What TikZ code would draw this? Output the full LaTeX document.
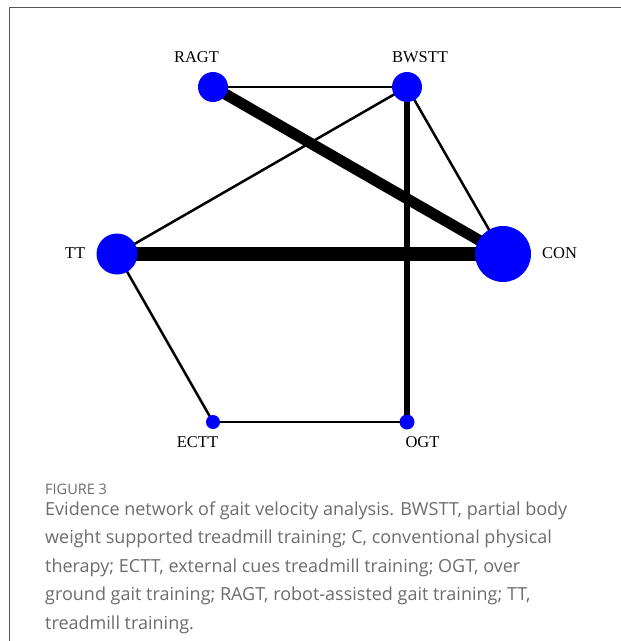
\documentclass[tikz,border=0pt]{standalone}
\usepackage{fontspec}
\setmainfont{Liberation Serif}
\newfontfamily\capfont{Open Sans}
\usetikzlibrary{backgrounds}
\definecolor{capgray}{RGB}{108,108,108}
\definecolor{framegray}{RGB}{85,85,85}

\tikzset{
  trt/.style={circle,fill=blue,inner sep=0pt,minimum size=#1},
  lab/.style={anchor=base,inner sep=0pt,font=\fontsize{16.5}{18}\selectfont},
  capline/.style={anchor=base west,inner sep=0pt,text=capgray,
    font=\capfont\fontsize{18}{20}\selectfont},
  link/.style={line width=#1},
}

\begin{document}
\begin{tikzpicture}[x=1pt,y=-1pt]

  \useasboundingbox (0,0) rectangle (621,641);
  \draw[framegray,line width=0.8pt] (9,7) rectangle (660,680);

  % treatments
  \node (ragt) at (213,87)  [trt=30pt] {};
  \node (bwstt) at (407,87) [trt=30pt] {};
  \node (tt) at (117,254)   [trt=41pt] {};
  \node (con) at (503,254)  [trt=56pt] {};
  \node (ectt) at (213,422) [trt=14pt] {};
  \node (ogt) at (407,422)  [trt=15pt] {};

  \node (lragt) at (196.5,62) [lab] {RAGT};
  \node (lbwstt) at (420,62)  [lab] {BWSTT};
  \node (ltt) at (75,258)     [lab] {TT};
  \node (lcon) at (559.5,258) [lab] {CON};
  \node (lectt) at (197.5,447) [lab] {ECTT};
  \node (logt) at (422.5,447)  [lab] {OGT};

  % comparisons
  \begin{scope}[on background layer]
    \draw[link=14pt] (tt.center) -- (con.center);
    \draw[link=11pt] (ragt.center) -- (con.center);
    \draw[link=5.5pt] (bwstt.center) -- (ogt.center);
    \draw[link=2.5pt] (ragt.center) -- (bwstt.center);
    \draw[link=2.5pt] (bwstt.center) -- (tt.center);
    \draw[link=2.5pt] (bwstt.center) -- (con.center);
    \draw[link=2.5pt] (tt.center) -- (ectt.center);
    \draw[link=2.5pt] (ectt.center) -- (ogt.center);
  \end{scope}

  % caption
  \node (fig) at (45,494) [capline,font=\capfont\fontsize{14.5}{16}\selectfont] {FIGURE 3};
  \node (cap1) at (45,515)   [capline] {Evidence network of gait velocity analysis. BWSTT, partial body};
  \node (cap2) at (45,543.5) [capline] {weight supported treadmill training; C, conventional physical};
  \node (cap3) at (45,572)   [capline] {therapy; ECTT, external cues treadmill training; OGT, over};
  \node (cap4) at (45,600.5) [capline] {ground gait training; RAGT, robot-assisted gait training; TT,};
  \node (cap5) at (45,629)   [capline] {treadmill training.};

\end{tikzpicture}
\end{document}
